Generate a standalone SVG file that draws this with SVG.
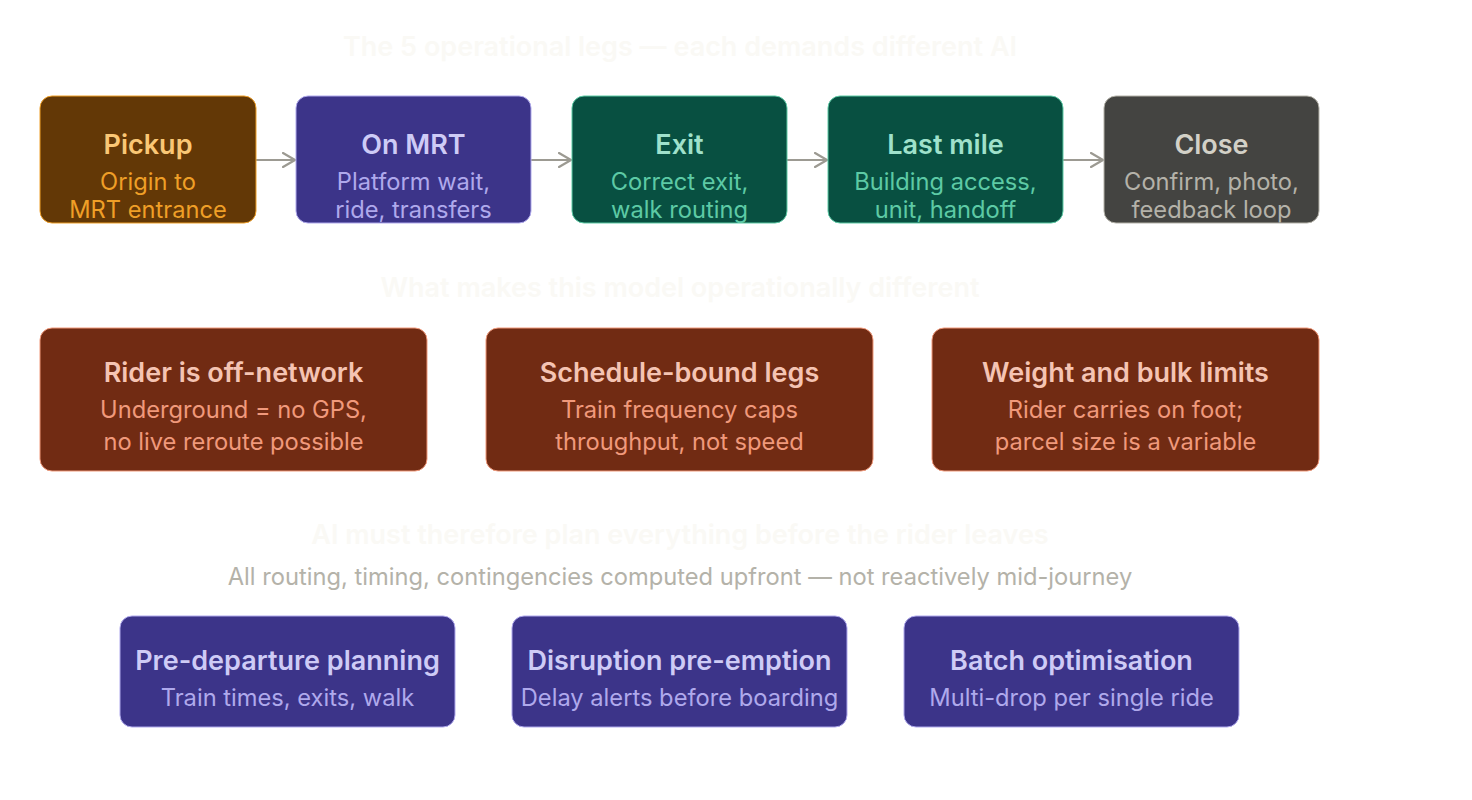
<svg xmlns="http://www.w3.org/2000/svg" width="1472" height="800" viewBox="0 0 1472 800">
<style>
text{font-family:Inter,"Noto Sans","Liberation Sans",sans-serif;text-anchor:middle;dominant-baseline:central}
.h{font-size:27px;font-weight:600;fill:#FAF9F5}
.sub{font-size:23.7px;fill:#B4B2A9}
.t{font-size:27px;font-weight:600}
.s{font-size:23.7px}
.amber rect{fill:#633806;stroke:#EF9F27}
.amber .t{fill:#FAC775}.amber .s{fill:#EF9F27}
.purple rect{fill:#3C3489;stroke:#AFA9EC}
.purple .t{fill:#CECBF6}.purple .s{fill:#AFA9EC}
.teal rect{fill:#085041;stroke:#5DCAA5}
.teal .t{fill:#9FE1CB}.teal .s{fill:#5DCAA5}
.gray rect{fill:#444441;stroke:#B4B2A9}
.gray .t{fill:#D3D1C7}.gray .s{fill:#B4B2A9}
.coral rect{fill:#712B13;stroke:#F0997B}
.coral .t{fill:#F5C4B3}.coral .s{fill:#F0997B}
rect{stroke-width:1}
.c line{stroke:#9C9A92;stroke-width:2.2;fill:none}
</style>
<defs>
<marker id="ah" viewBox="0 0 14 16" refX="13" refY="8" markerWidth="14" markerHeight="16" markerUnits="userSpaceOnUse" orient="auto">
<path d="M1 1L13 8L1 15" fill="none" stroke="#9C9A92" stroke-width="2.2" stroke-linecap="round" stroke-linejoin="round"/>
</marker>
</defs>
<rect width="1472" height="800" fill="#FFFFFF"/>
<text class="h" x="680" y="46">The 5 operational legs — each demands different AI</text>

<g class="c">
<line x1="256" y1="160" x2="295" y2="160" marker-end="url(#ah)"/>
<line x1="531" y1="160" x2="571" y2="160" marker-end="url(#ah)"/>
<line x1="787" y1="160" x2="827" y2="160" marker-end="url(#ah)"/>
<line x1="1063" y1="160" x2="1103" y2="160" marker-end="url(#ah)"/>
</g>

<g id="pickup" class="amber"><rect x="40" y="96" width="216" height="127" rx="12"/>
<text class="t" x="148" y="144">Pickup</text><text class="s" x="148" y="181">Origin to</text><text class="s" x="148" y="209">MRT entrance</text></g>
<g id="onmrt" class="purple"><rect x="296" y="96" width="235" height="127" rx="12"/>
<text class="t" x="413.5" y="144">On MRT</text><text class="s" x="413.5" y="181">Platform wait,</text><text class="s" x="413.5" y="209">ride, transfers</text></g>
<g id="exit" class="teal"><rect x="572" y="96" width="215" height="127" rx="12"/>
<text class="t" x="679.5" y="144">Exit</text><text class="s" x="679.5" y="181">Correct exit,</text><text class="s" x="679.5" y="209">walk routing</text></g>
<g id="lastmile" class="teal"><rect x="828" y="96" width="235" height="127" rx="12"/>
<text class="t" x="945.5" y="144">Last mile</text><text class="s" x="945.5" y="181">Building access,</text><text class="s" x="945.5" y="209">unit, handoff</text></g>
<g id="close" class="gray"><rect x="1104" y="96" width="215" height="127" rx="12"/>
<text class="t" x="1211.5" y="144">Close</text><text class="s" x="1211.5" y="181">Confirm, photo,</text><text class="s" x="1211.5" y="209">feedback loop</text></g>

<text class="h" x="680" y="287">What makes this model operationally different</text>

<g id="offnetwork" class="coral"><rect x="40" y="328" width="387" height="143" rx="12"/>
<text class="t" x="233.5" y="372">Rider is off-network</text><text class="s" x="233.5" y="409">Underground = no GPS,</text><text class="s" x="233.5" y="441">no live reroute possible</text></g>
<g id="schedule" class="coral"><rect x="486" y="328" width="387" height="143" rx="12"/>
<text class="t" x="679.5" y="372">Schedule-bound legs</text><text class="s" x="679.5" y="409">Train frequency caps</text><text class="s" x="679.5" y="441">throughput, not speed</text></g>
<g id="weight" class="coral"><rect x="932" y="328" width="387" height="143" rx="12"/>
<text class="t" x="1125.5" y="372">Weight and bulk limits</text><text class="s" x="1125.5" y="409">Rider carries on foot;</text><text class="s" x="1125.5" y="441">parcel size is a variable</text></g>

<text class="h" x="680" y="534">AI must therefore plan everything before the rider leaves</text>
<text class="sub" x="680" y="576">All routing, timing, contingencies computed upfront — not reactively mid-journey</text>

<g id="predeparture" class="purple"><rect x="120" y="616" width="335" height="111" rx="12"/>
<text class="t" x="287.5" y="660">Pre-departure planning</text><text class="s" x="287.5" y="697">Train times, exits, walk</text></g>
<g id="disruption" class="purple"><rect x="512" y="616" width="335" height="111" rx="12"/>
<text class="t" x="679.5" y="660">Disruption pre-emption</text><text class="s" x="679.5" y="697">Delay alerts before boarding</text></g>
<g id="batch" class="purple"><rect x="904" y="616" width="335" height="111" rx="12"/>
<text class="t" x="1071.5" y="660">Batch optimisation</text><text class="s" x="1071.5" y="697">Multi-drop per single ride</text></g>
</svg>
